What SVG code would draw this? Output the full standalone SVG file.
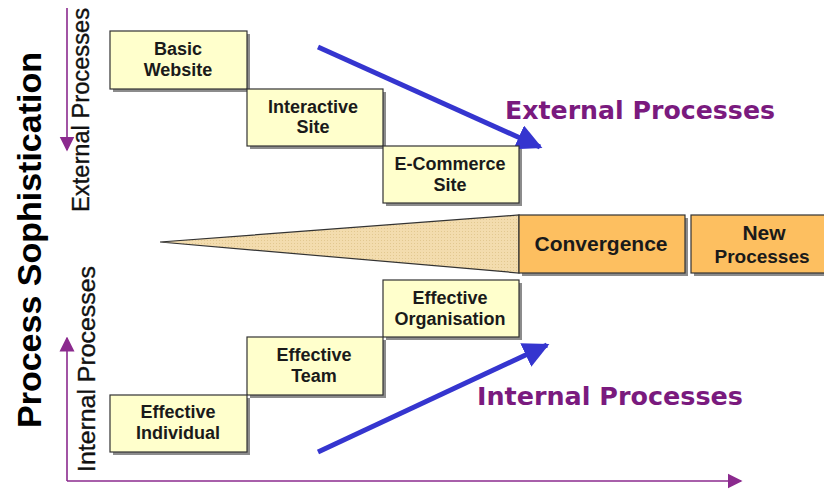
<svg xmlns="http://www.w3.org/2000/svg" width="824" height="491" viewBox="0 0 824 491">
  <defs>
    <style>
      .box { fill: #FFFFCC; stroke: #333333; stroke-width: 1.2; }
      .shadow { fill: #8C8C8C; }
      .obox { fill: #FDBF60; stroke: #333333; stroke-width: 1.2; }
      .lbl { font-family: "Liberation Sans", Arial, sans-serif; font-weight: bold; font-size: 18px; fill: #1A1A1A; text-anchor: middle; }
      .side { font-family: "Liberation Sans", Arial, sans-serif; font-weight: bold; font-size: 34px; fill: #000000; text-anchor: middle; }
      .big { font-family: "DejaVu Sans", Verdana, sans-serif; font-weight: bold; font-size: 24px; fill: #7A1A7E; }
      .axis { stroke: #8B2A8E; stroke-width: 1.6; fill: none; }
      .trend { stroke: #3535CF; stroke-width: 5; fill: none; }
      .vlab { font-family: "Liberation Sans", Arial, sans-serif; font-size: 23px; fill: #111111; stroke: #111111; stroke-width: 0.35; text-anchor: middle; }
    </style>
    <marker id="axisHead" viewBox="0 0 10 10" refX="9" refY="5" markerWidth="15" markerHeight="16" markerUnits="userSpaceOnUse" orient="auto">
      <path d="M0,0 L10,5 L0,10 z" fill="#8B2A8E"/>
    </marker>
    <marker id="trendHead" viewBox="0 0 10 10" refX="9" refY="5" markerWidth="5.2" markerHeight="5.2" orient="auto">
      <path d="M0,0 L10,5 L0,10 z" fill="#3535CF"/>
    </marker>
    <pattern id="grain" width="3" height="3" patternUnits="userSpaceOnUse">
      <rect width="3" height="3" fill="#F3DCAE"/>
      <rect width="1" height="1" fill="#E2C890"/>
    </pattern>
  </defs>

  <!-- side titles -->
  <text x="41" y="240" class="side" transform="rotate(-90 41 240)" textLength="376" lengthAdjust="spacingAndGlyphs">Process Sophistication</text>
  <text x="89" y="110" class="vlab" transform="rotate(-90 89 110)" textLength="204" lengthAdjust="spacingAndGlyphs">External Processes</text>
  <text x="95" y="369" class="vlab" transform="rotate(-90 95 369)" textLength="206" lengthAdjust="spacingAndGlyphs">Internal Processes</text>

  <!-- axes and trend arrows -->
  <g id="connectors">
    <line class="axis" x1="67" y1="8" x2="67" y2="150" marker-end="url(#axisHead)"/>
    <line class="axis" x1="67" y1="481" x2="67" y2="338" marker-end="url(#axisHead)"/>
    <line class="axis" x1="67" y1="481" x2="741" y2="481" marker-end="url(#axisHead)"/>
    <line class="trend" x1="318" y1="47" x2="540" y2="147" marker-end="url(#trendHead)"/>
    <line class="trend" x1="318" y1="452" x2="547" y2="345" marker-end="url(#trendHead)"/>
  </g>

  <!-- converging wedge -->
  <g id="wedge">
    <polygon points="160,242 519,215 519,273" fill="url(#grain)" stroke="#333333" stroke-width="1.2"/>
  </g>

  <!-- external process steps -->
  <g id="basic-website">
    <rect class="shadow" x="113" y="34" width="137" height="58"/>
    <rect class="box" x="110" y="31" width="137" height="58"/>
    <text class="lbl" x="178" y="55">Basic</text>
    <text class="lbl" x="178" y="76">Website</text>
  </g>
  <g id="interactive-site">
    <rect class="shadow" x="250" y="92" width="136" height="57"/>
    <rect class="box" x="247" y="89" width="136" height="57"/>
    <text class="lbl" x="313" y="113">Interactive</text>
    <text class="lbl" x="313" y="133">Site</text>
  </g>
  <g id="ecommerce-site">
    <rect class="shadow" x="386" y="149" width="136" height="57"/>
    <rect class="box" x="383" y="146" width="136" height="57"/>
    <text class="lbl" x="450" y="170">E-Commerce</text>
    <text class="lbl" x="450" y="191">Site</text>
  </g>

  <!-- convergence -->
  <g id="convergence">
    <rect class="shadow" x="522" y="218" width="166" height="58"/>
    <rect class="obox" x="519" y="215" width="166" height="58"/>
    <text class="lbl" x="601" y="251" style="font-size:21px">Convergence</text>
  </g>
  <g id="new-processes">
    <rect class="shadow" x="694" y="218" width="134" height="58"/>
    <rect class="obox" x="691" y="215" width="134" height="58"/>
    <text class="lbl" x="764" y="240" style="font-size:21px">New</text>
    <text class="lbl" x="762" y="263" style="font-size:19px">Processes</text>
  </g>

  <!-- internal process steps -->
  <g id="effective-organisation">
    <rect class="shadow" x="386" y="283" width="136" height="57"/>
    <rect class="box" x="383" y="280" width="136" height="57"/>
    <text class="lbl" x="450" y="304">Effective</text>
    <text class="lbl" x="450" y="325">Organisation</text>
  </g>
  <g id="effective-team">
    <rect class="shadow" x="250" y="340" width="136" height="58"/>
    <rect class="box" x="247" y="337" width="136" height="58"/>
    <text class="lbl" x="314" y="361">Effective</text>
    <text class="lbl" x="314" y="382">Team</text>
  </g>
  <g id="effective-individual">
    <rect class="shadow" x="113" y="398" width="137" height="57"/>
    <rect class="box" x="110" y="395" width="137" height="57"/>
    <text class="lbl" x="178" y="418">Effective</text>
    <text class="lbl" x="178" y="439">Individual</text>
  </g>

  <!-- trend labels -->
  <text class="big" x="505" y="119" textLength="270" lengthAdjust="spacingAndGlyphs">External Processes</text>
  <text class="big" x="477" y="405" textLength="266" lengthAdjust="spacingAndGlyphs">Internal Processes</text>
</svg>
